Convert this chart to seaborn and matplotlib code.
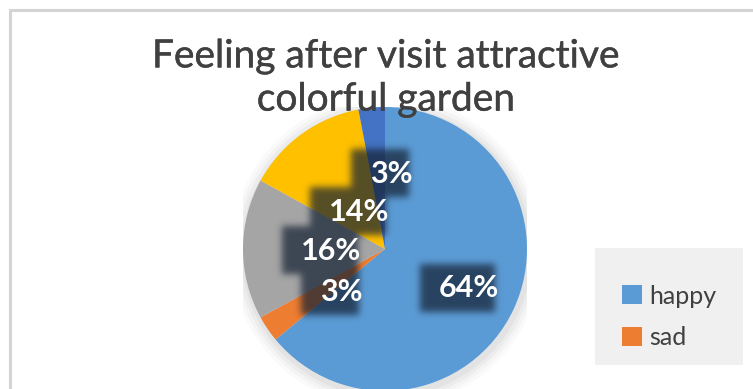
import numpy as np
import matplotlib
matplotlib.use("Agg")
import matplotlib.pyplot as plt
import matplotlib.patheffects as pe
from matplotlib.patches import Rectangle, Patch
import seaborn as sns

# Survey answers: how people felt after visiting the garden
feelings = ["happy", "sad", "calm", "excited", "tired"]
shares = [64, 3, 16, 14, 3]
legend_shown = ["happy", "sad"]
title_text = "Feeling after visit attractive\ncolorful garden"

slice_colors = ["#5b9bd5", "#ed7d31", "#a5a5a5", "#ffc000", "#4472c4"]
# label placement: (fraction of radius, angle nudge in degrees) per slice
label_place = [(0.65, 0), (0.43, 10), (0.38, 2), (0.32, -1), (0.53, -10)]

sns.set_theme(style="white")
plt.rcParams["font.family"] = ["Lato", "DejaVu Sans"]

W, H = 753, 389
fig = plt.figure(figsize=(W / 100, H / 100), dpi=100)
fig.patch.set_facecolor("white")

# chart-area frame (runs off the right and bottom edges)
fig.add_artist(Rectangle((10 / W, -0.05), 1.1, (H - 10) / H + 0.05,
                         transform=fig.transFigure, fill=False,
                         edgecolor="#d4d4d4", linewidth=2.2, zorder=0))

cx, cy, R = 385, 249, 142
ax = fig.add_axes([(cx - R) / W, (H - cy - R) / H, 2 * R / W, 2 * R / H])

wedges, _ = ax.pie(shares, colors=slice_colors, startangle=90, counterclock=False,
                   wedgeprops=dict(linewidth=0), radius=1.0)
for w in wedges:
    w.set_zorder(2)
ax.set_xlim(-1, 1)
ax.set_ylim(-1, 1)
ax.set_aspect("equal")
ax.axis("off")

# faint halo behind the pie
for k, a in enumerate([0.035, 0.03, 0.025, 0.02]):
    ax.add_patch(plt.Circle((0.01, -0.02), 1.0 + 0.025 * (k + 1), color="#000000",
                            alpha=a, lw=0, zorder=0))

total = sum(shares)
angle = 90.0
labels = []
for val, (dist, nudge) in zip(shares, label_place):
    span = 360.0 * val / total
    mid = np.deg2rad(angle - span / 2 + nudge)
    angle -= span
    x, y = dist * np.cos(mid), dist * np.sin(mid)
    t = ax.text(x, y, f"{round(100 * val / total)}%", ha="center", va="center",
                fontsize=22, fontweight="bold", color="white", zorder=4)
    labels.append(t)

# soft dark shadow boxes behind the labels
fig.canvas.draw()
renderer = fig.canvas.get_renderer()
n = 2 * R
mask = np.zeros((n, n))
x0_pix, top_pix = cx - R, cy - R
for t in labels:
    bb = t.get_window_extent(renderer)
    c0 = int(bb.x0 - x0_pix - 18)
    c1 = int(bb.x1 - x0_pix - 3)
    r0 = int((H - bb.y1) - top_pix - 10)
    r1 = int((H - bb.y0) - top_pix + 10)
    mask[max(r0, 0):min(r1, n), max(c0, 0):min(c1, n)] = 1.0
sig = 3.5
kx = np.arange(-12, 13)
kern = np.exp(-kx ** 2 / (2 * sig ** 2))
kern /= kern.sum()
blur = np.apply_along_axis(lambda v: np.convolve(v, kern, mode="same"), 0, mask)
blur = np.apply_along_axis(lambda v: np.convolve(v, kern, mode="same"), 1, blur)
shade = np.zeros((n, n, 4))
shade[..., 0] = 0.08
shade[..., 1] = 0.13
shade[..., 2] = 0.20
shade[..., 3] = 0.72 * blur
ax.imshow(shade, extent=[-1, 1, -1, 1], origin="upper", zorder=3,
          interpolation="bilinear")
ax.set_xlim(-1, 1)
ax.set_ylim(-1, 1)

fig.text(386 / W, 1 - 78 / H, title_text, ha="center", va="center",
         fontsize=28, color="#404040", linespacing=1.25,
         path_effects=[pe.withStroke(linewidth=0.3, foreground="#404040")])

# legend panel
fig.add_artist(Rectangle((595 / W, 1 - 365 / H), 148 / W, 117 / H,
                         transform=fig.transFigure, facecolor="#f0f0f0",
                         edgecolor="none", zorder=1))
handles = [Patch(facecolor=slice_colors[feelings.index(nm)], edgecolor="none")
           for nm in legend_shown]
leg = fig.legend(handles, legend_shown, loc="upper left",
                 bbox_to_anchor=(609 / W, 1 - 272 / H), frameon=False,
                 fontsize=18, handlelength=0.8, handleheight=0.8,
                 handletextpad=0.3, labelspacing=0.75, borderpad=0,
                 labelcolor="#404040")
leg.set_zorder(2)

fig.savefig("out.png", dpi=100)
